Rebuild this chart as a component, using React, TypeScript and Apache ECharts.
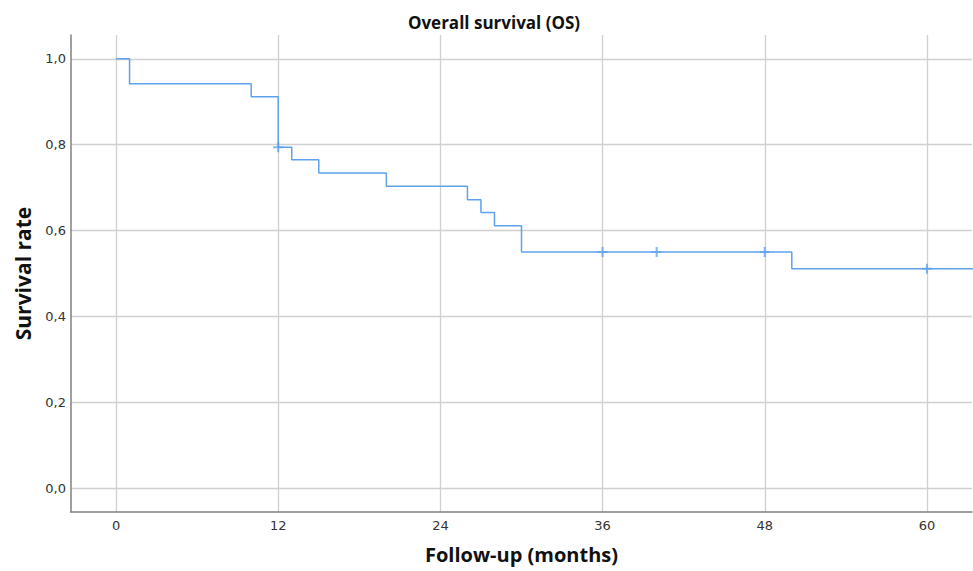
import React, { useEffect, useRef } from "react";
import * as echarts from "echarts";

// Kaplan-Meier step points (time in months, survival after event)
const stepTimes = [0, 1, 10, 12, 13, 15, 20, 26, 27, 28, 30, 50, 64];
const stepSurvival = [1.0, 0.942, 0.912, 0.794, 0.765, 0.734, 0.703, 0.672, 0.642, 0.611, 0.55, 0.511, 0.511];

// censored observations
const censorTimes = [12, 36, 40, 48, 60];
const censorSurvival = [0.794, 0.55, 0.55, 0.55, 0.511];

const xTicks = [0, 12, 24, 36, 48, 60];
const yTicks = [0, 0.2, 0.4, 0.6, 0.8, 1.0];

const titleText = "Overall survival (OS)";
const xName = "Follow-up (months)";
const yName = "Survival rate";

const BLUE = "#5ea2ee";

export default function App() {
  const ref = useRef<HTMLDivElement>(null);
  useEffect(() => {
    if (!ref.current) return;
    const chart = echarts.init(ref.current, null, { renderer: "svg" });
    const font = "'Open Sans', 'DejaVu Sans', sans-serif";
    chart.setOption({
      animation: false,
      backgroundColor: "#ffffff",
      title: {
        text: titleText,
        left: 489,
        textAlign: "center",
        top: 9,
        textStyle: { fontFamily: font, fontSize: 17, fontWeight: "bold", color: "#111" },
      },
      grid: { left: 71, top: 35, right: 1, bottom: 59, containLabel: false },
      xAxis: {
        type: "value",
        min: -3.333,
        max: 63.333,
        name: xName,
        nameLocation: "middle",
        nameGap: 32,
        nameTextStyle: { fontFamily: font, fontSize: 20, fontWeight: "bold", color: "#111" },
        axisLine: { show: true, onZero: false, lineStyle: { color: "#808080", width: 1.5 } },
        axisTick: { show: false, customValues: xTicks },
        axisLabel: {
          customValues: xTicks,
          margin: 7,
          fontFamily: "'DejaVu Sans', sans-serif",
          fontSize: 13,
          color: "#333",
        },
        splitLine: { show: true, lineStyle: { color: "#d0d0d0", width: 1.3 } },
      },
      yAxis: {
        type: "value",
        min: -0.0556,
        max: 1.0556,
        name: yName,
        nameLocation: "middle",
        nameGap: 38,
        nameRotate: 90,
        nameTextStyle: { fontFamily: font, fontSize: 21, fontWeight: "bold", color: "#111" },
        axisLine: { show: true, onZero: false, lineStyle: { color: "#808080", width: 1.5 } },
        axisTick: { show: false, customValues: yTicks },
        axisLabel: {
          customValues: yTicks,
          margin: 5,
          fontFamily: "'DejaVu Sans', sans-serif",
          fontSize: 13,
          color: "#333",
          formatter: (v: number) => v.toFixed(1).replace(".", ","),
        },
        splitLine: { show: true, lineStyle: { color: "#d0d0d0", width: 1.3 } },
      },
      series: [
        {
          type: "line",
          step: "end",
          data: stepTimes.map((t, i) => [t, stepSurvival[i]]),
          showSymbol: false,
          lineStyle: { color: BLUE, width: 1.5 },
          clip: true,
          z: 3,
        },
        {
          type: "scatter",
          data: censorTimes.map((t, i) => [t, censorSurvival[i]]),
          symbol: "path://M4,0H6V4H10V6H6V10H4V6H0V4H4Z",
          symbolSize: 10,
          itemStyle: { color: BLUE },
          z: 4,
        },
      ],
    });
    return () => chart.dispose();
  }, []);
  return (
    <div
      ref={ref}
      style={{ position: "fixed", left: 0, top: 0, width: 973, height: 571 }}
    />
  );
}
